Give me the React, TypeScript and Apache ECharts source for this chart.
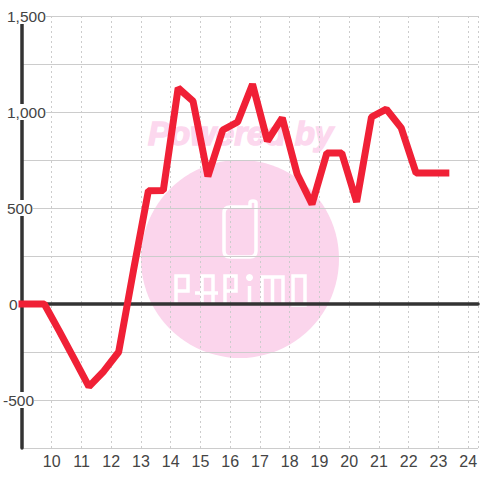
import React, { useEffect, useRef } from "react";
import * as echarts from "echarts";

const hours = [9, 9.25, 9.75, 10.25, 10.75, 11.25, 11.75, 12.25, 12.75, 13.25, 13.75, 14.25, 14.75, 15.25, 15.75, 16.25, 16.75, 17.25, 17.75, 18.25, 18.75, 19.25, 19.75, 20.25, 20.75, 21.25, 21.75, 22.25, 22.75, 23.25];
const values = [0, 0, 0, -140, -285, -430, -350, -250, 177, 590, 591, 1125, 1057, 665, 906, 948, 1145, 849, 969, 677, 520, 786, 786, 532, 974, 1015, 917, 682, 682, 682];
const watermarkTitle = "Powered by";

const LOGO = [
  "M224 213 Q224 207 230 207 H250 V203 Q250 201 253 201 Q256 201 256 203 V251 Q256 257 250 257 H230 Q224 257 224 251 Z",
  "M176 305 V276 H188 V291 H176",
  "M202 305 V276 H213 V305 M195 293 H218",
  "M225 305 V276 H236 V291 H225",
  "M249.5 286 V305",
  "M262 305 V277 H283 V305 M272.5 277 V305",
  "M293 276 H305 V305 H293 Z",
].join(" ");
echarts.graphic.registerShape("papimoLogo", echarts.graphic.extendPath(LOGO, {}));

const labelPad: Record<number, string> = { 1500: "p4", 1000: "p4", 500: "p4", 0: "p6", "-500": "" } as any;

export default function App() {
  const ref = useRef<HTMLDivElement>(null);
  useEffect(() => {
    const chart = echarts.init(ref.current!, undefined, { renderer: "svg" });
    const font = "'Liberation Sans', Arial, sans-serif";
    const tok = { backgroundColor: "#fff", fontSize: 15.5, fontFamily: font, color: "#444", height: 16, lineHeight: 16 };
    chart.setOption({
      animation: false,
      backgroundColor: "#fff",
      grid: { left: 20, right: 0, top: 16, bottom: 32, containLabel: false },
      xAxis: [
        {
          type: "value", min: 9, max: 24.3333, interval: 1, position: "bottom",
          axisLine: { show: false, onZero: false },
          axisTick: { show: false },
          axisLabel: {
            color: "#444", fontSize: 16, fontFamily: font, margin: 5, showMinLabel: false, showMaxLabel: false,
            formatter: (v: number) => (Number.isInteger(v) && v > 9 ? String(v) : ""),
          },
          splitLine: { show: true, lineStyle: { color: "#ccc", width: 1, type: [2, 3] } },
        },
        {
          type: "value", min: 9, max: 24.3333, interval: 1, position: "bottom",
          axisLine: { show: true, onZero: true, lineStyle: { color: "#333", width: 3.5 } },
          axisTick: { show: false }, axisLabel: { show: false }, splitLine: { show: false },
        },
      ],
      yAxis: {
        type: "value", min: -750, max: 1500, interval: 250,
        axisLine: { show: true, onZero: false, lineStyle: { color: "#333", width: 3.5 } },
        axisTick: { show: false },
        axisLabel: {
          align: "left", margin: 19,
          formatter: (v: number) => {
            if (v % 500 !== 0) return "";
            const p = labelPad[v];
            const s = Math.abs(v) >= 1000 ? v.toLocaleString("en-US") : String(v);
            return (p ? `{${p}| }` : "") + `{t|${s}}`;
          },
          rich: {
            t: tok,
            p4: { width: 4, fontSize: 16, height: 16 },
            p6: { width: 6, fontSize: 16, height: 16 },
          },
        },
        splitLine: { show: true, lineStyle: { color: "#ccc", width: 1 } },
      },
      graphic: [
        { type: "circle", z: -10, shape: { cx: 240, cy: 259, r: 99 }, style: { fill: "#fbd5ec" } },
        { type: "text", z: -10, x: 148, y: 117, style: { text: watermarkTitle, fill: "#fcd8ee", stroke: "#fcd8ee", lineWidth: 1.5, font: `italic bold 33px ${font}` } },
        { type: "papimoLogo", z: -9, x: 0, y: 0, style: { fill: "none", stroke: "#fff", lineWidth: 3.5 } },
        { type: "circle", z: -9, shape: { cx: 249.5, cy: 277.5, r: 3.5 }, style: { fill: "#fff" } },
      ],
      series: [
        {
          type: "line", xAxisIndex: 0, symbol: "none", clip: false, z: 5,
          data: hours.map((h, i) => [h, values[i]]),
          lineStyle: { color: "#f02036", width: 7, cap: "square", join: "bevel" },
        },
      ],
    });
    return () => chart.dispose();
  }, []);
  return <div ref={ref} style={{ position: "fixed", left: 0, top: 0, width: 480, height: 480 }} />;
}
